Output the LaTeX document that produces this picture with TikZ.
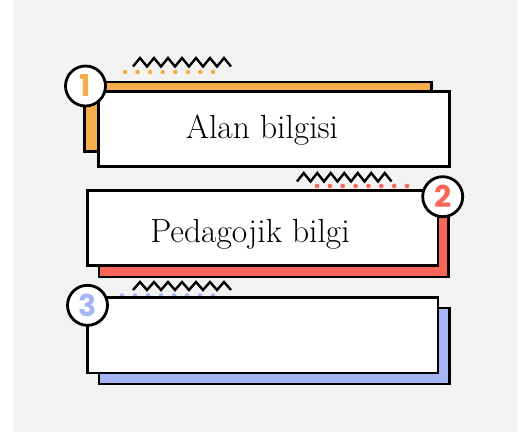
\documentclass[tikz,border=0pt]{standalone}
\usepackage{fontspec}
\newfontfamily\numfont{Poppins}
\definecolor{bgc}{HTML}{F3F3F3}
\definecolor{orng}{HTML}{F6AE4C}
\definecolor{redc}{HTML}{F8665A}
\definecolor{bluec}{HTML}{A6B6F5}
\tikzset{
  shadowbox/.style={draw=black, line width=2.7pt},
  mainbox/.style={draw=black, fill=white, line width=2.7pt, rectangle, inner sep=0pt,
    minimum width=350.7pt, minimum height=75.5pt},
  numcirc/.style={circle, draw=black, fill=white, line width=2.8pt, inner sep=0pt,
    minimum size=40pt, font=\numfont\bfseries\fontsize{30}{30}\selectfont},
  boxtext/.style={anchor=base, inner sep=0pt, font=\fontsize{33.5}{40}\selectfont},
  zig/.style={draw=black, line width=2.4pt, line join=miter},
}
\newcommand{\zigline}[4]{% x0, ybottom, ytop, step
  \draw[zig] (#1,#2)
    \foreach \k in {0,...,6} { -- ({#1+#4*\k+#4/2},#3) -- ({#1+#4*(\k+1)},#2) };
}
\newcommand{\dotrow}[4]{% color, x0, x1, y
  \foreach \k in {0,...,7} { \fill[#1] ({#2+(#3-#2)*\k/7},#4) circle (2.3pt); }
}
\begin{document}
\begin{tikzpicture}[x=1pt, y=-1pt]
\useasboundingbox (0,0) rectangle (527,432);
\fill[white] (0,0) rectangle (527,432);
\fill[bgc] (13,0) rectangle (517,432);

% ---- group 1 ----
\draw[shadowbox, fill=orng] (84.5,82) rectangle (431.5,151.5);
\dotrow{orng}{125}{213}{72}
\zigline{133}{66.5}{58}{14}
\node[mainbox] (b1) at (273.9,129) {};
\node[boxtext] (t1) at (262,138) {Alan bilgisi};
\node[numcirc, text=orng] (c1) at (85.5,86) {1};

% ---- group 2 ----
\draw[shadowbox, fill=redc] (99,200) rectangle (448.7,277);
\dotrow{redc}{317}{407}{186}
\zigline{297}{181.5}{173}{13.5}
\node[mainbox] (b2) at (262.5,228) {};
\node[boxtext] (t2) at (250,242.7) {Pedagojik bilgi};
\node[numcirc, text=redc] (c2) at (442.7,196.7) {2};

% ---- group 3 ----
\draw[shadowbox, fill=bluec] (99,308) rectangle (449.3,384);
\dotrow{bluec}{122}{213}{295.5}
\zigline{133}{290}{282}{14}
\node[mainbox] (b3) at (262.7,335.2) {};
\node[numcirc, text=bluec] (c3) at (87.5,305.3) {3};
\end{tikzpicture}
\end{document}
